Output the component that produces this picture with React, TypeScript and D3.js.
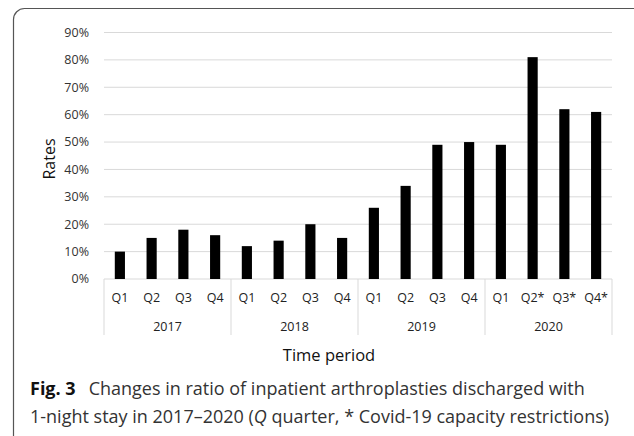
import React from "react";
import * as d3 from "d3";

const years = ["2017", "2018", "2019", "2020"];
const quarters = ["Q1", "Q2", "Q3", "Q4", "Q1", "Q2", "Q3", "Q4", "Q1", "Q2", "Q3", "Q4", "Q1", "Q2*", "Q3*", "Q4*"];
const rates = [10, 15, 18, 16, 12, 14, 20, 15, 26, 34, 49, 50, 49, 81, 62, 61];
const yTicks = [0, 10, 20, 30, 40, 50, 60, 70, 80, 90];

const W = 634, H = 436;
const left = 104, right = 612, top = 32.5, bottom = 279;
const FONT = "'Open Sans', 'Noto Sans', sans-serif";

export default function App() {
  const idx = quarters.map((_, i) => i);
  const x = d3.scaleBand<number>().domain(idx).range([left, right]).paddingInner(0.68).paddingOuter(0.34);
  const y = d3.scaleLinear().domain([0, 90]).range([bottom, top]);
  const step = (right - left) / quarters.length;

  return (
    <svg width={W} height={H} style={{ position: "absolute", left: 0, top: 0 }}>
      <rect x={0} y={0} width={W} height={H} fill="#fff" />
      <rect x={13.5} y={8.5} width={640} height={440} rx={11} ry={11} fill="none" stroke="#555" strokeWidth={1.2} />
      {yTicks.map((t) => (
        <g key={t}>
          <line x1={left} x2={right} y1={y(t)} y2={y(t)} stroke="#d9d9d9" strokeWidth={1} />
          <text x={89} y={y(t)} dy="0.35em" textAnchor="end" fontFamily={FONT} fontSize={12.5} fill="#333">
            {t}%
          </text>
        </g>
      ))}
      {rates.map((v, i) => (
        <rect key={i} x={x(i)} y={y(v)} width={x.bandwidth()} height={y(0) - y(v)} fill="#000" />
      ))}
      {quarters.map((q, i) => (
        <text key={i} x={left + step * (i + 0.5)} y={298} dy="0.35em" textAnchor="middle" fontFamily={FONT} fontSize={12.5} fill="#222">
          {q}
        </text>
      ))}
      {[0, 1, 2, 3, 4].map((g) => (
        <line key={g} x1={left + g * 4 * step} x2={left + g * 4 * step} y1={bottom} y2={335} stroke="#d9d9d9" strokeWidth={1} />
      ))}
      {years.map((yr, g) => (
        <text key={yr} x={left + step * (g * 4 + 2)} y={326.5} dy="0.35em" textAnchor="middle" fontFamily={FONT} fontSize={12.5} fill="#222">
          {yr}
        </text>
      ))}
      <text transform={`translate(49,159) rotate(-90)`} dy="0.35em" textAnchor="middle" fontFamily={FONT} fontSize={16} fill="#111">
        Rates
      </text>
      <text x={329} y={355} dy="0.35em" textAnchor="middle" fontFamily={FONT} fontSize={16.5} fill="#111">
        Time period
      </text>
      <text x={30} y={395} fontFamily={FONT} fontSize={18} fill="#333">
        <tspan fontWeight="bold" fill="#111">Fig. 3</tspan>
        <tspan dx={13}>Changes in ratio of inpatient arthroplasties discharged with</tspan>
      </text>
      <text x={30} y={423} fontFamily={FONT} fontSize={18} fill="#333">
        1-night stay in 2017–2020 (<tspan fontStyle="italic">Q</tspan> quarter, * Covid-19 capacity restrictions)
      </text>
    </svg>
  );
}
